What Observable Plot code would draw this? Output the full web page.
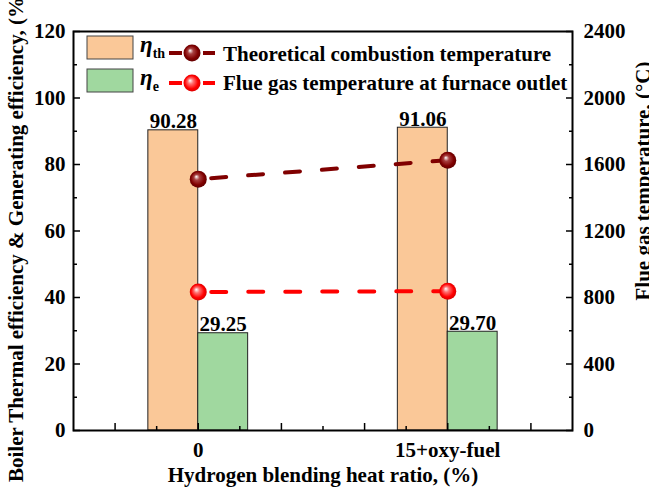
<!DOCTYPE html>
<html><head><meta charset="utf-8">
<script src="https://cdn.jsdelivr.net/npm/d3@7"></script>
<script src="https://cdn.jsdelivr.net/npm/@observablehq/plot@0.6"></script>
<style>
body{margin:0;background:#fff}
#chart{position:relative;width:649px;height:499px}
</style>
</head><body><div id="chart"></div>
<script>
// ---- data ----
const categories = ["0", "15+oxy-fuel"];
const thermalEff = [90.28, 91.06];          // η_th (%)
const generatingEff = [29.25, 29.70];       // η_e (%)
const theoreticalTemp = [1512, 1626];       // °C
const flueGasTemp = [833, 838];             // °C
const leftTicks = [0, 20, 40, 60, 80, 100, 120];
const rightTicks = [0, 400, 800, 1200, 1600, 2000, 2400];
const xTitle = "Hydrogen blending heat ratio, (%)";
const yLeftTitle = "Boiler Thermal efficiency & Generating efficiency, (%)";
const yRightTitle = "Flue gas temperature, (°C)";
const legendLabels = ["Theoretical combustion temperature", "Flue gas temperature at furnace outlet"];

// ---- styling ----
const ORANGE = "#FAC898", GREEN = "#A0D89F", DARK = "#800000", RED = "#FF0000";
const FONT = "Liberation Serif, Times New Roman, serif";
const K = rightTicks[rightTicks.length - 1] / leftTicks[leftTicks.length - 1]; // 20

const thData = categories.map((c, i) => ({i, v: thermalEff[i], label: thermalEff[i].toFixed(2)}));
const geData = categories.map((c, i) => ({i, v: generatingEff[i], label: generatingEff[i].toFixed(2)}));
const ttData = categories.map((c, i) => ({i, t: theoreticalTemp[i]}));
const fgData = categories.map((c, i) => ({i, t: flueGasTemp[i]}));

const majorX = d3.range(-1, 5).map(k => k / 3);
const minorX = d3.range(-1, 8, 2).map(k => k / 6);
const minorLeft = d3.range(10, 120, 20);
const minorRight = d3.range(200, 2400, 400);

const txt = {fontSize: 21, fontWeight: "bold", fontFamily: FONT, fill: "#000"};

const plot = Plot.plot({
  width: 649, height: 499,
  marginLeft: 73, marginRight: 77, marginTop: 31, marginBottom: 69,
  style: {fontFamily: FONT, fontSize: "21px", fontWeight: "bold", background: "#fff", color: "#000"},
  x: {domain: [-0.5, 1.5], axis: null},
  y: {domain: [0, 120], axis: null},
  marks: [
    Plot.rectY(thData, {x1: d => d.i - 0.2, x2: d => d.i, y1: 0, y2: "v", fill: ORANGE, stroke: "#222", strokeWidth: 1}),
    Plot.rectY(geData, {x1: d => d.i, x2: d => d.i + 0.2, y1: 0, y2: "v", fill: GREEN, stroke: "#222", strokeWidth: 1}),
    Plot.text(thData, {x: d => d.i - 0.1, y: "v", text: "label", lineAnchor: "bottom", dy: -2, ...txt}),
    Plot.text(geData, {x: d => d.i + 0.1, y: "v", text: "label", lineAnchor: "bottom", dy: -2, ...txt}),
    Plot.line(ttData, {x: "i", y: d => d.t / K, stroke: DARK, strokeWidth: 4, strokeDasharray: "15,22", strokeDashoffset: 24}),
    Plot.line(fgData, {x: "i", y: d => d.t / K, stroke: RED, strokeWidth: 4, strokeDasharray: "15,22", strokeDashoffset: 24}),
    Plot.dot(ttData, {x: "i", y: d => d.t / K, r: 8.5, fill: "url(#gDark)", stroke: "none"}),
    Plot.dot(fgData, {x: "i", y: d => d.t / K, r: 8.5, fill: "url(#gRed)", stroke: "none"}),
    // left axis
    Plot.axisY(leftTicks, {anchor: "left", tickSize: -7, tickPadding: 15, strokeWidth: 1.5, label: null, ...txt}),
    Plot.axisY(minorLeft, {anchor: "left", tickSize: -4, tickFormat: () => "", strokeWidth: 1.5, label: null}),
    // right axis
    Plot.axisY(rightTicks.map(t => t / K), {anchor: "right", tickSize: -7, tickPadding: 18, tickFormat: d => String(Math.round(d * K)), strokeWidth: 1.5, label: null, ...txt}),
    Plot.axisY(minorRight.map(t => t / K), {anchor: "right", tickSize: -4, tickFormat: () => "", strokeWidth: 1.5, label: null}),
    // bottom axis
    Plot.axisX(majorX, {anchor: "bottom", tickSize: -7, tickFormat: () => "", strokeWidth: 1.5, label: null}),
    Plot.axisX(minorX, {anchor: "bottom", tickSize: -4, tickFormat: () => "", strokeWidth: 1.5, label: null}),
    Plot.axisX(categories.map((c, i) => i), {anchor: "bottom", tickSize: 0, tickPadding: 12, tickFormat: i => categories[i], label: null, ...txt}),
    Plot.frame({stroke: "#000", strokeWidth: 2}),
    // axis titles
    Plot.text([xTitle], {frameAnchor: "bottom", lineAnchor: "top", dy: 37, ...txt}),
    Plot.text([yLeftTitle], {frameAnchor: "left", textAnchor: "middle", rotate: -90, dx: -57, dy: 5, ...txt}),
    Plot.text([yRightTitle], {frameAnchor: "right", textAnchor: "middle", rotate: -90, dx: 71, dy: -50, ...txt})
  ]
});

const svg = d3.select(plot);
const defs = svg.append("defs");
function grad(id, c0, c1, c2) {
  const g = defs.append("radialGradient").attr("id", id)
    .attr("cx", "50%").attr("cy", "50%").attr("r", "55%").attr("fx", "38%").attr("fy", "35%");
  g.append("stop").attr("offset", "0%").attr("stop-color", "#ffffff");
  g.append("stop").attr("offset", "30%").attr("stop-color", c0);
  g.append("stop").attr("offset", "70%").attr("stop-color", c1);
  g.append("stop").attr("offset", "100%").attr("stop-color", c2);
}
grad("gDark", "#a84040", "#800000", "#5a0000");
grad("gRed", "#ff7070", "#ff0000", "#d00000");

// legend
const lg = svg.append("g").attr("font-family", FONT).attr("font-weight", "bold").attr("text-anchor", "start");
const swatches = [ORANGE, GREEN];
const subs = ["th", "e"];
const lineCols = [DARK, RED];
const grads = ["url(#gDark)", "url(#gRed)"];
[0, 1].forEach(k => {
  const yTop = 36 + k * 33;
  lg.append("rect").attr("x", 87).attr("y", yTop).attr("width", 46).attr("height", 23)
    .attr("fill", swatches[k]).attr("stroke", "#444").attr("stroke-width", 1);
  const t = lg.append("text").attr("x", 140).attr("y", yTop + 16).attr("font-size", 23).attr("text-anchor", "start");
  t.append("tspan").attr("font-style", "italic").text("η");
  t.append("tspan").attr("font-size", 14).attr("dy", 6).text(subs[k]);
  const yc = 53 + k * 30;
  lg.append("line").attr("x1", 169).attr("x2", 182).attr("y1", yc).attr("y2", yc).attr("stroke", lineCols[k]).attr("stroke-width", 4);
  lg.append("line").attr("x1", 203).attr("x2", 215).attr("y1", yc).attr("y2", yc).attr("stroke", lineCols[k]).attr("stroke-width", 4);
  lg.append("circle").attr("cx", 192).attr("cy", yc).attr("r", 8.5).attr("fill", grads[k]);
  lg.append("text").attr("x", 223).attr("y", 61 + k * 28.5).attr("font-size", 21).attr("text-anchor", "start").text(legendLabels[k]);
});

document.getElementById("chart").appendChild(plot);
</script>
</body></html>
